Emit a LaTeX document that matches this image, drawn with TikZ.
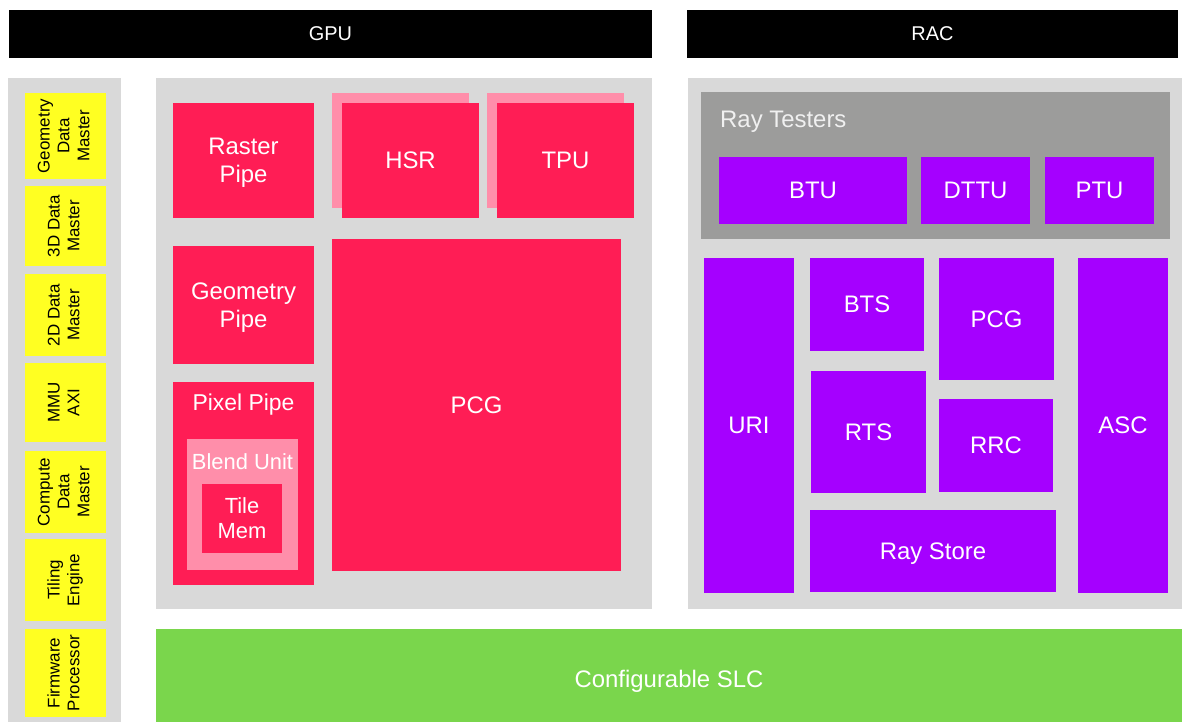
\documentclass[tikz,border=0pt]{standalone}
\usepackage{fontspec}
\setmainfont{Liberation Sans}
\usepackage{xcolor}
\usepackage{tikz}
\usetikzlibrary{positioning}

\definecolor{panelgrey}{HTML}{D9D9D9}
\definecolor{testgrey}{HTML}{9C9C9B}
\definecolor{masteryellow}{HTML}{FFFF22}
\definecolor{gpured}{HTML}{FF1D55}
\definecolor{gpupink}{HTML}{FF8EAA}
\definecolor{racpurple}{HTML}{A500FF}
\definecolor{slcgreen}{HTML}{7AD64C}

\begin{document}
\begin{tikzpicture}[
    x=1bp, y=-1bp,
    sz/.style 2 args={
        minimum width=#1bp,
        minimum height=#2bp
    },
    base/.style={
        rectangle,
        inner sep=0pt,
        outer sep=0pt,
        anchor=north west,
        align=center,
        text depth=0pt
    },
    header/.style={
        base,
        fill=black,
        text=white,
        font=\fontsize{20}{24}\selectfont
    },
    panel/.style={
        base,
        fill=panelgrey
    },
    master/.style={
        base,
        fill=masteryellow,
        text=black,
        font=\fontsize{17}{20}\selectfont
    },
    gpublk/.style={
        base,
        fill=gpured,
        text=white,
        font=\fontsize{24}{28}\selectfont
    },
    ghost/.style={
        base,
        fill=gpupink
    },
    racblk/.style={
        base,
        fill=racpurple,
        text=white,
        font=\fontsize{24}{28}\selectfont
    },
    tag/.style={
        inner sep=0pt,
        text=white,
        font=\fontsize{22}{25}\selectfont
    }
]
\useasboundingbox (0,0) rectangle (1182,722);

% --- Headers -----------------------------------------------------------------

\node[header, sz={643}{48}] (gpuhead) at (9,10) {GPU};
\node[header, sz={491}{48}] (rachead) at (687,10) {RAC};

% --- Data masters column -----------------------------------------------------

\node[panel, sz={113}{660}] (mastercol) at (8,78) {};

\node[master, sz={81}{86}] (geomdm) at (25,93)
    {\rotatebox{90}{\begin{tabular}{@{}c@{}}Geometry\\Data\\Master\end{tabular}}};
\node[master, sz={81}{80}] (dm3d) at (25,186)
    {\rotatebox{90}{\begin{tabular}{@{}c@{}}3D Data\\Master\end{tabular}}};
\node[master, sz={81}{82}] (dm2d) at (25,274)
    {\rotatebox{90}{\begin{tabular}{@{}c@{}}2D Data\\Master\end{tabular}}};
\node[master, sz={81}{79}] (mmu) at (25,363)
    {\rotatebox{90}{\begin{tabular}{@{}c@{}}MMU\\AXI\end{tabular}}};
\node[master, sz={81}{82}] (computedm) at (25,451)
    {\rotatebox{90}{\begin{tabular}{@{}c@{}}Compute\\Data\\Master\end{tabular}}};
\node[master, sz={81}{82}] (tiling) at (25,539)
    {\rotatebox{90}{\begin{tabular}{@{}c@{}}Tiling\\Engine\end{tabular}}};
\node[master, sz={81}{88}] (firmware) at (25,629)
    {\rotatebox{90}{\begin{tabular}{@{}c@{}}Firmware\\Processor\end{tabular}}};

% --- GPU ---------------------------------------------------------------------

\node[panel, sz={496}{531}] (gpu) at (156,78) {};

\node[gpublk, sz={141}{115}] (raster) at (173,103) {Raster\\Pipe};
\node[gpublk, sz={141}{118}] (geompipe) at (173,246) {Geometry\\Pipe};

\node[gpublk, sz={141}{203}] (pixel) at (173,382) {};
\node[tag, font=\fontsize{23}{26}\selectfont, below=12bp of pixel.north] {Pixel Pipe};
\node[ghost, sz={111}{131}] (blend) at (187,439) {};
\node[tag, below=14bp of blend.north] {Blend Unit};
\node[gpublk, sz={80}{69}, font=\fontsize{22}{25}\selectfont] (tilemem) at (202,484) {Tile\\Mem};

\node[ghost, sz={137}{115}] (hsrback) at (332,93) {};
\node[gpublk, sz={137}{115}] (hsr) at (342,103) {HSR};
\node[ghost, sz={137}{115}] (tpuback) at (487,93) {};
\node[gpublk, sz={137}{115}] (tpu) at (497,103) {TPU};

\node[gpublk, sz={289}{332}] (gpupcg) at (332,239) {PCG};

% --- RAC ---------------------------------------------------------------------

\node[panel, sz={494}{531}] (rac) at (688,78) {};

\node[base, fill=testgrey, sz={469}{147}] (raytest) at (701,92) {};
\node[tag, anchor=north west, text=white!94!black, font=\fontsize{24}{28}\selectfont,
    below right=19bp and 19bp of raytest.north west] {Ray Testers};
\node[racblk, sz={188}{67}] (btu) at (719,157) {BTU};
\node[racblk, sz={109}{67}] (dttu) at (921,157) {DTTU};
\node[racblk, sz={109}{67}] (ptu) at (1045,157) {PTU};

\node[racblk, sz={90}{335}] (uri) at (704,258) {URI};
\node[racblk, sz={114}{93}] (bts) at (810,258) {BTS};
\node[racblk, sz={115}{122}] (racpcg) at (939,258) {PCG};
\node[racblk, sz={115}{122}] (rts) at (811,371) {RTS};
\node[racblk, sz={114}{93}] (rrc) at (939,399) {RRC};
\node[racblk, sz={246}{82}] (raystore) at (810,510) {Ray Store};
\node[racblk, sz={90}{335}] (asc) at (1078,258) {ASC};

% --- System level cache ------------------------------------------------------

\node[base, fill=slcgreen, text=white, sz={1026}{100},
    font=\fontsize{24}{28}\selectfont] (slc) at (156,629) {Configurable SLC};

\end{tikzpicture}
\end{document}
